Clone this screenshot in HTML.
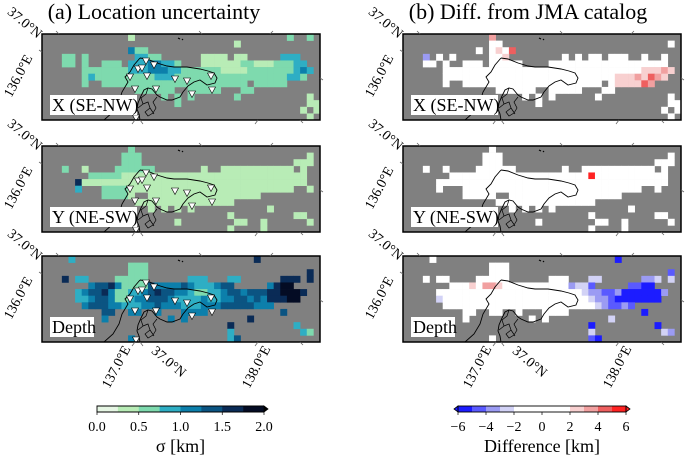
<!DOCTYPE html>
<html><head><meta charset="utf-8">
<style>
html,body{margin:0;padding:0;background:#fff;}
svg{display:block;font-family:"Liberation Serif",serif;}
svg text{font-family:"Liberation Serif",serif;}
</style></head>
<body>
<svg id="fig" width="685" height="455" viewBox="0 0 685 455">
  <text x="154" y="19" font-size="22" text-anchor="middle">(a) Location uncertainty</text>
  <text x="528" y="19" font-size="22" text-anchor="middle">(b) Diff. from JMA catalog</text>
  <g id="panels"></g>
  <g id="cbars"></g>
</svg>
<script>
// ---- data: gridded sigma levels (0..7 -> 0.25 km bins), '.' = no events
const sigmaX = [
".............1.......................2..2..",
".............................1............",
".............422..........................",
"...22.2.......3322......1111.11.....333...",
"...22.2..222.33344332...1111112211122233...",
"......22222223334443322222211112222222343..",
"......2322222222233322222222222222222332...",
"......2..2222222222222222222222.22222......",
"..............222222..22222...22..........",
"..................2.2.2......2..........1.",
"....................2...................11",
".......................................1.1",
"........................................1."];
const sigmaY = [
".............2............................",
"............222.........................1.",
"............222.......................111.",
"...2..1....222222.......1..11111111111.1..",
".......222221111111111111111111111111111..",
".....61111111111111111111111111111111111..",
".....3...22221111111111111111111111111..1.",
".........22221..11111111111111111.........",
"..............111111111111111.............",
"................1.1.1.1...........1.......",
"............................1.........11..",
"....................1........11..1......1.",
"............................1....1........"];
const sigmaZ = [
"....3...........................6.........",
".............222..........................",
".............222........................6.",
"...6.33....22222......333...33......666.6.",
".......4556422225444454333455.....4677....",
".....34556422334565544322334554555667776..",
".....3345542234455543333433445545466677...",
"......45554433344544433344455555444.......",
".........55..44..4...4444...........5.....",
".........4.........4.4.........6..........",
"............................6.........3...",
"............................3..........32.",
".............4..............35............"];
// diff codes: A=-5.5 B=-4.5 C=-3.5 D=-2.5 w=0 e=2.5 f=3.5 g=4.5 h=5.5
const diffX = [
".............f............................",
".............ww.........................w.",
"...........w.wewg.........................",
"...C.w.w.....wwe........w.w.ww.www..w..w..",
"...ww.w..www.wwwww....wwwwwwwwwwwwwwwwww..",
"......wwwwwwwwwwwwwwwwwwwwwwwwwwwwwweeefe..",
"......wwwwwwwwwwwwwwwwwwwwwwwwwweeefegfe...",
"......w..wwwwwwwwwwwwwwwwwwwww.weeeegf....",
"..............wwwwww..wwwww...ww..........",
"..................w.w.w......w..........w.",
"....................w...................ww",
".......................................w.w",
"........................................w."];
const diffY = [
".............w............................",
"............www.........................w.",
"............www.......................www.",
"...w..w....wwwwww.......w..wwwwwwwwwww.w..",
".......wwwwwwwwwwwwwwwwwwwwwhwwwwwwwwwww..",
".....wwwwwwwwwwwwwwwwwwwwwwwwwwwwwwwwwww..",
".....w...wwwwwwwwwwwwwwwwwwwwwwwwwww..w.",
".........wwwww..wwwwwwwwwwwwwwwww.........",
"..............wwwwwwwwwwwwwww.............",
"................w.w.w.w...........w.......",
"............................w.........ww..",
"....................w........ww..w......w.",
"............................w....w........"];
const diffZ = [
"....w...........................A.........",
".............www..........................",
".............www........................B.",
"...w.ww....wwwww......www...DD......CCD.D.",
".......wwwewffewwwwwwwwwwCDDB.....BBAA....",
".....wwwwwwwwwwwwwwwwwwwwwwDCCBBCAAAAAAC..",
".....DwwwwwwwwwwwwwwwwwwwwwwDCCBAAAAAAA...",
"......wwwwwwwwwwwwwwwwwwwwwwwDCBBCB.......",
".........ww..ww..w...wwww...........A.....",
".........w.........w.w.........D..........",
"............................A.........A...",
"............................D..........DC.",
".............w..............BA............"];
const diffCodes = {A:-5.5,B:-4.5,C:-3.5,D:-2.5,w:0,e:2.5,f:3.5,g:4.5,h:5.5};
const sigmaTicks = ["0.0","0.5","1.0","1.5","2.0"];
const diffTicks = ["\u22126","\u22124","\u22122","0","2","4","6"];
const sigmaBounds = [0,0.25,0.5,0.75,1.0,1.25,1.5,1.75,2.0];
const diffBounds = [-6,-5,-4,-3,-2,2,3,4,5,6];

const sigmaColors = ["#e6f6e4","#b8ecb6","#7edaae","#2eaec4","#0c7fab","#0b5482","#0a2b56","#040c24"];
const diffColors = ["#1c1cff","#5a5aff","#9b9bf3","#d2d2f6","#ffffff","#f8d0d0","#f1a0a0","#ee5f5f","#ff2222"];
function sigmaColor(v){for(let i=0;i<8;i++){if(v<sigmaBounds[i+1])return sigmaColors[i];}return sigmaColors[7];}
function diffColor(v){for(let i=0;i<9;i++){if(v<diffBounds[i+1])return diffColors[i];}return diffColors[8];}

const NS="http://www.w3.org/2000/svg";
function mk(tag,attrs,parent){const e=document.createElementNS(NS,tag);for(const k in attrs)e.setAttribute(k,attrs[k]);if(parent)parent.appendChild(e);return e;}

const PW=278, PH=86, NC=42, NR=13;
const colX=[42,403], rowY=[34,146,256];
const cw=PW/NC, ch=PH/NR;
function xCell(c){return c*cw;}
function yCell(r){return r*ch;}

const coast="M98,24 L105,25 L115,29 L125,32 L132,33 L145,33 L158,35 L166,37 L172,39 L175,44 L173,49 L165,51 L158,46 L152,48 L146,52 L141,58 L138,63 L130,66 L125,66 L118,63 L115,61 L110,55 L106,54 L102,56 L99,62 L96,69 L95,75 L97,80 L98,86 M98,24 L92,31 L88,38 L83,43 L86,48 L80,58 L77,68 L71,78 L62,86";
const borders="M106,54 L104,60 L99,64 L101,70 L106,68 L108,74 L103,78 L106,82 L111,79 L114,74 L111,68 L115,63 M101,70 L96,74 M108,74 L112,80";
const stations=[[104,27],[112,31],[96,35],[100,34],[105,42],[88,43],[133,45],[145,47],[169,42],[93,55],[114,55],[150,60],[170,56],[94,84]];

const panels=document.getElementById('panels');
const grids=[[sigmaX,sigmaY,sigmaZ],[diffX,diffY,diffZ]];
const labels=[["X (SE-NW)",87],["Y (NE-SW)",87],["Depth",44]];
const rowNames=["x","y","depth"];
for(let side=0;side<2;side++){
  for(let r=0;r<3;r++){
    const g=mk('g',{transform:`translate(${colX[side]},${rowY[r]})`},panels);
    
    
    const clipId='clip'+side+r;
    const cp=mk('clipPath',{id:clipId},g);
    mk('rect',{x:0,y:0,width:PW,height:PH},cp);
    const bg=mk('rect',{x:0,y:0,width:PW,height:PH,fill:'#808080'},g);
    
    
    const grid=grids[side][r];
    const cells=mk('g',{'clip-path':`url(#${clipId})`},g);
    for(let i=0;i<NR;i++){
      const row=grid[i];
      for(let j=0;j<NC;j++){
        const ch_=row[j];
        if(!ch_||ch_==='.')continue;
        let fill;
        if(side===0){const v=(parseInt(ch_)+0.5)*0.25;fill=sigmaColor(v);}
        else{const v=diffCodes[ch_];if(v===undefined)continue;fill=diffColor(v);}
        const cell=mk('rect',{x:xCell(j).toFixed(2),y:yCell(i).toFixed(2),width:(cw+0.3).toFixed(2),height:(ch+0.3).toFixed(2),fill:fill},cells);
        
        
      }
    }
    const cg=mk('g',{'clip-path':`url(#${clipId})`},g);
    const cst=mk('path',{d:coast,fill:'none',stroke:'#000','stroke-width':0.9},cg);
    
    
    mk('path',{d:borders,fill:'none',stroke:'#000','stroke-width':0.7},cg);
    mk('path',{d:"M136,4 l2,1 M140,5 l1,1",fill:'none',stroke:'#000','stroke-width':1.2},cg);
    if(side===0){
      stations.forEach(s=>{
        const t=mk('path',{d:`M${s[0]-3.5},${s[1]-3} L${s[0]+3.5},${s[1]-3} L${s[0]},${s[1]+3.5} Z`,fill:'#fff',stroke:'#000','stroke-width':0.6},cg);
        
        
      });
    }
    const lb=mk('rect',{x:8,y:61,width:labels[r][1],height:20,fill:'#fff'},g);
    
    
    const lt=mk('text',{x:10,y:77,'font-size':18,'font-family':'Liberation Serif, serif'},g);
    lt.textContent=labels[r][0];
    
    
    const fr=mk('rect',{x:0,y:0,width:PW,height:PH,fill:'none',stroke:'#000','stroke-width':1.5},g);
    
    
    [[17,0,-3,-3],[160,0,-3,-3],[228,0,3,-3],[0,18,-3,-2],[278,44,3,2]].forEach(t=>{
      mk('line',{x1:t[0],y1:t[1],x2:t[0]+t[2],y2:t[1]+t[3],stroke:'#666','stroke-width':0.8},g);
    });
    [[93,PH,-3,4],[98,PH,3,4],[216,PH,-3,4],[258,PH,3,3]].forEach(t=>{
      mk('line',{x1:t[0],y1:t[1],x2:t[0]+t[2],y2:t[1]+t[3],stroke:'#666','stroke-width':0.8},g);
    });
    const t1=mk('text',{'font-size':14,'font-family':'Liberation Serif, serif','text-anchor':'middle',transform:`translate(-20,-8) rotate(40)`},g);
    t1.textContent="37.0\u00B0N";
    
    
    const t2=mk('text',{'font-size':14,'font-family':'Liberation Serif, serif','text-anchor':'middle',transform:`translate(-20,44) rotate(-62)`},g);
    t2.textContent="136.0\u00B0E";
    
    
    if(r===2){
      [["137.0\u00B0E",78,113,-62],["37.0\u00B0N",124,109,40],["138.0\u00B0E",218,113,-62]].forEach(b=>{
        const tb=mk('text',{'font-size':14,'font-family':'Liberation Serif, serif','text-anchor':'middle',transform:`translate(${b[1]},${b[2]}) rotate(${b[3]})`},g);
        tb.textContent=b[0];
        
        
      });
    }
  }
}

// ---- colorbars
const cb=document.getElementById('cbars');
const cbY=406, cbH=6;
(function(){
  const x0=97, x1=264;
  const sx=v=>x0+(v-0)/(2-0)*(x1-x0);
  const g=mk('g',{},cb);
  
  
  for(let i=0;i<8;i++){
    const seg=mk('rect',{x:sx(sigmaBounds[i]),y:cbY,width:sx(sigmaBounds[i+1])-sx(sigmaBounds[i])+0.3,height:cbH,fill:sigmaColors[i]},g);
    
    
  }
  mk('path',{d:`M${x1},${cbY} L${x1+4},${cbY+cbH/2} L${x1},${cbY+cbH} Z`,fill:'#000',stroke:'#000','stroke-width':0.8},g);
  mk('path',{d:`M${x1},${cbY} L${x0},${cbY} L${x0},${cbY+cbH} L${x1},${cbY+cbH}`,fill:'none',stroke:'#000','stroke-width':0.9},g);
  sigmaTicks.forEach(t=>{
    const v=parseFloat(t);
    mk('line',{x1:sx(v),y1:cbY+cbH,x2:sx(v),y2:cbY+cbH+3,stroke:'#000','stroke-width':0.7},g);
    const tt=mk('text',{x:sx(v),y:cbY+cbH+19,'font-size':14,'font-family':'Liberation Serif, serif','text-anchor':'middle'},g);
    tt.textContent=t;
    
    
  });
  const tl=mk('text',{x:(x0+x1)/2,y:452,'font-size':18,'font-family':'Liberation Serif, serif','text-anchor':'middle'},g);
  tl.textContent="\u03C3 [km]";
  
  
})();
(function(){
  const x0=458, x1=626;
  const sx=v=>x0+(v+6)/12*(x1-x0);
  const g=mk('g',{},cb);
  
  
  for(let i=0;i<9;i++){
    const seg=mk('rect',{x:sx(diffBounds[i]),y:cbY,width:sx(diffBounds[i+1])-sx(diffBounds[i])+0.3,height:cbH,fill:diffColors[i]},g);
    
    
  }
  mk('path',{d:`M${x1},${cbY} L${x1+4},${cbY+cbH/2} L${x1},${cbY+cbH} Z`,fill:'#ff2222',stroke:'#000','stroke-width':0.8},g);
  mk('path',{d:`M${x0},${cbY} L${x0-4},${cbY+cbH/2} L${x0},${cbY+cbH} Z`,fill:'#1c1cff',stroke:'#000','stroke-width':0.8},g);
  mk('rect',{x:x0,y:cbY,width:x1-x0,height:cbH,fill:'none',stroke:'#000','stroke-width':0.9},g);
  diffTicks.forEach(t=>{
    const v=parseFloat(t.replace("\u2212","-"));
    mk('line',{x1:sx(v),y1:cbY+cbH,x2:sx(v),y2:cbY+cbH+3,stroke:'#000','stroke-width':0.7},g);
    const tt=mk('text',{x:sx(v),y:cbY+cbH+19,'font-size':14,'font-family':'Liberation Serif, serif','text-anchor':'middle'},g);
    tt.textContent=t;
    
    
  });
  const tl=mk('text',{x:(x0+x1)/2,y:452,'font-size':18,'font-family':'Liberation Serif, serif','text-anchor':'middle'},g);
  tl.textContent="Difference [km]";
  
  
})();
</script>
</body></html>
